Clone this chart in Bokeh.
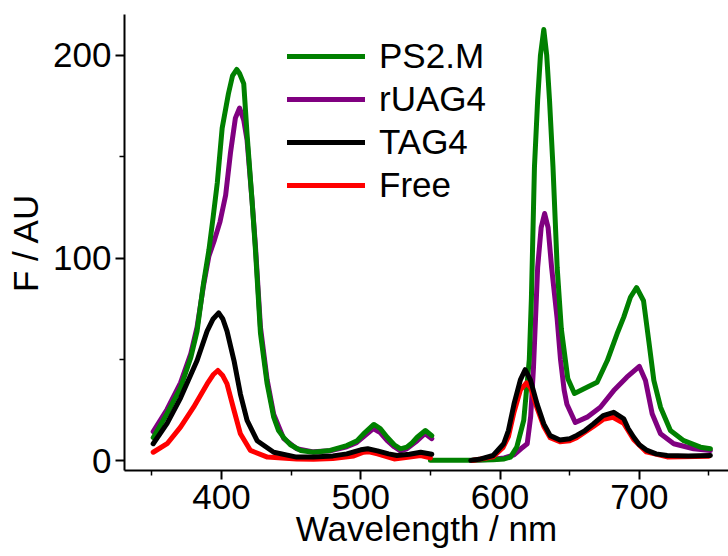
from bokeh.plotting import figure
from bokeh.models import Range1d, FixedTicker, Legend, LegendItem
from bokeh.embed import file_html
from bokeh.resources import INLINE

# ---- data ----
ps2m_x1 = [351, 361, 370.6, 378, 382.5, 387, 391, 394, 397, 400.5, 405, 408, 411, 413, 416, 418.4, 422, 424.4, 428, 432.8,
           437.5, 441, 444.7, 449.5, 456.7, 466, 478, 490, 497.4, 503, 509.4, 514, 519, 524, 528.5, 533, 537, 540.5, 546.4, 551]
ps2m_y1 = [11.5, 23.4, 36, 51, 64, 87, 104, 120, 137, 164, 181, 190, 193, 191, 186, 161, 128, 104, 63, 38,
           21.6, 15, 11.5, 8, 5.2, 4.3, 5.2, 7.6, 10, 14, 18, 16, 11.7, 8, 6, 6.8, 9, 11.7, 15, 12.5]
ps2m_x2 = [550, 565, 580, 595, 603, 607.5, 612, 617, 621, 622.5, 624.7, 627, 629, 631.4, 633.5, 635.5, 638, 641, 644, 648.6,
           653.4, 660.6, 669.7, 677, 684, 688.8, 693.6, 698, 703, 706.8, 710.4, 715.2, 722.3, 731.9, 743.9, 751]
ps2m_y2 = [0.3, 0.3, 0.4, 0.6, 1.0, 1.9, 6.8, 20, 50, 80, 145, 178, 200, 212.7, 200, 178, 145, 95.5, 65, 40.7,
           33.3, 35.7, 38.8, 49.5, 62.7, 70.9, 80.7, 85.5, 79, 59, 39.7, 26.5, 15, 10, 6.8, 6]

ruag4_x1 = [351, 361, 370.6, 378, 382.5, 387, 391, 395, 399, 403, 406.5, 410, 413, 416, 418.4, 422, 424.4, 428, 432.8,
            437.5, 444.7, 454, 466, 478, 490, 497, 503, 509, 514, 519, 524, 528.5, 533, 540.5, 546, 551]
ruag4_y1 = [14.5, 25.5, 38.5, 53, 66, 86, 101, 109, 118, 131, 152, 169, 174, 168, 158, 128, 106, 66, 40,
            23, 11, 6, 4.5, 5, 7, 9, 12.5, 16, 14, 10, 7, 5, 6, 10, 13.5, 11]
ruag4_x2 = [580, 595, 603, 610, 615, 619.5, 622, 624, 627, 629.5, 632, 634.5, 637, 641, 643.4, 646, 648, 654,
            662.5, 672, 681.6, 691, 700, 704.4, 709.2, 715.2, 724.7, 739, 751]
ruag4_y2 = [0.3, 0.8, 1.5, 3, 6, 8.5, 22, 46, 95.5, 115, 122, 115, 95.5, 70, 50, 35, 28, 19,
            21.6, 26.5, 34.7, 41.3, 46.6, 39.7, 23.3, 13.4, 8.5, 6, 5.2]

tag4_x1 = [351, 361, 370.6, 382.5, 389.7, 394, 398, 401, 404, 409, 413.6, 418.4, 425.6, 437.5, 454, 466, 480, 490,
           500, 505, 512, 520, 526, 535, 543, 551]
tag4_y1 = [8.5, 18.5, 31, 49.5, 64, 70, 73, 70, 64, 49.5, 33, 20, 10, 4.3, 1.9, 2, 2.5, 3.5,
           5.5, 6, 5, 3.5, 2.7, 3.3, 4.3, 3.3]
tag4_x2 = [579, 585, 595, 602.6, 606, 610, 614.6, 618, 621.8, 626.6, 631.4, 636, 643, 650, 655, 661, 667, 674,
           681.6, 688.8, 692, 696, 700, 705.6, 712, 720, 735, 751]
tag4_y2 = [0.3, 0.8, 2.7, 8.5, 15, 28, 40, 45, 40, 28, 18.3, 12.5, 10.3, 11, 12.6, 15, 18.3, 22.4,
           24, 20.8, 16, 11.7, 8, 5.2, 3.5, 2.7, 2.5, 2.7]

free_x1 = [351, 361, 370.6, 380, 389.7, 394, 397.4, 401, 404, 409, 413.6, 420.8, 433, 454, 466, 480, 495,
           502, 506, 512, 524, 535, 543, 550]
free_y1 = [4.3, 8.5, 16.7, 26.5, 38, 42.5, 44.6, 42, 38, 25, 13.4, 5.2, 1.9, 1, 0.8, 1.2, 2.5,
           4.3, 4.5, 3.5, 1, 2, 2.7, 1.5]
free_x2 = [580, 595, 602, 606, 610, 614.6, 619, 622, 626.6, 631.4, 636, 643, 650, 655, 667, 674, 681, 688.8,
           696, 705, 720, 750]
free_y2 = [0.2, 2, 6.5, 12, 24, 35, 38.5, 36, 26, 17, 11.5, 9.5, 10, 11.5, 17, 20.5, 21.5, 18.5,
           10.5, 4.5, 2, 2.3]

series_names = ["PS2.M", "rUAG4", "TAG4", "Free"]
x_major = [400, 500, 600, 700]
x_minor = [350, 450, 550, 650, 750]
y_major = [0, 100, 200]
y_minor = [50, 150]

FONT = "Liberation Sans"
GREEN, PURPLE, BLACK, RED = "#008000", "#800080", "#000000", "#FF0000"

p = figure(width=728, height=556, output_backend="svg", toolbar_location=None,
           x_range=Range1d(330.4, 764.0), y_range=Range1d(-4.7, 220.1),
           min_border_left=124, min_border_top=14, min_border_right=0, min_border_bottom=86)

p.grid.visible = False
p.outline_line_color = None
p.background_fill_color = "white"

LW = 5
kw = dict(line_width=LW, line_join="round", line_cap="round")
r_p1 = p.line(ruag4_x1, ruag4_y1, line_color=PURPLE, **kw)
p.line(ruag4_x2, ruag4_y2, line_color=PURPLE, **kw)
r_g1 = p.line(ps2m_x1, ps2m_y1, line_color=GREEN, **kw)
p.line(ps2m_x2, ps2m_y2, line_color=GREEN, **kw)
r_f1 = p.line(free_x1, free_y1, line_color=RED, **kw)
p.line(free_x2, free_y2, line_color=RED, **kw)
r_t1 = p.line(tag4_x1, tag4_y1, line_color=BLACK, **kw)
p.line(tag4_x2, tag4_y2, line_color=BLACK, **kw)

p.xaxis.ticker = FixedTicker(ticks=x_major, minor_ticks=x_minor)
p.yaxis.ticker = FixedTicker(ticks=y_major, minor_ticks=y_minor)

for ax in (p.xaxis[0], p.yaxis[0]):
    ax.axis_line_width = 2
    ax.axis_line_color = "black"
    ax.major_tick_line_width = 2
    ax.minor_tick_line_width = 1.5
    ax.major_tick_in = 0
    ax.major_tick_out = 9
    ax.minor_tick_in = 0
    ax.minor_tick_out = 5
    ax.major_label_text_font = FONT
    ax.major_label_text_font_size = "35px"
    ax.major_label_text_color = "black"
    ax.axis_label_text_font = FONT
    ax.axis_label_text_font_size = "35px"
    ax.axis_label_text_font_style = "normal"
    ax.axis_label_text_color = "black"

p.xaxis.axis_label = "Wavelength / nm"
p.yaxis.axis_label = "F / AU"
p.xaxis.major_label_standoff = 5
p.xaxis.axis_label_standoff = -3
p.yaxis.major_label_standoff = 4
p.yaxis.axis_label_standoff = 5

legend = Legend(items=[LegendItem(label=series_names[0], renderers=[r_g1]),
                       LegendItem(label=series_names[1], renderers=[r_p1]),
                       LegendItem(label=series_names[2], renderers=[r_t1]),
                       LegendItem(label=series_names[3], renderers=[r_f1])],
                location=(163, 265), orientation="vertical",
                glyph_width=78, glyph_height=40, label_height=40, spacing=3,
                label_standoff=14, padding=0, margin=0,
                border_line_color=None, background_fill_alpha=0,
                label_text_font=FONT, label_text_font_size="35px", label_text_color="black")
p.add_layout(legend, "center")

open("out.html", "w").write(file_html(p, INLINE))
